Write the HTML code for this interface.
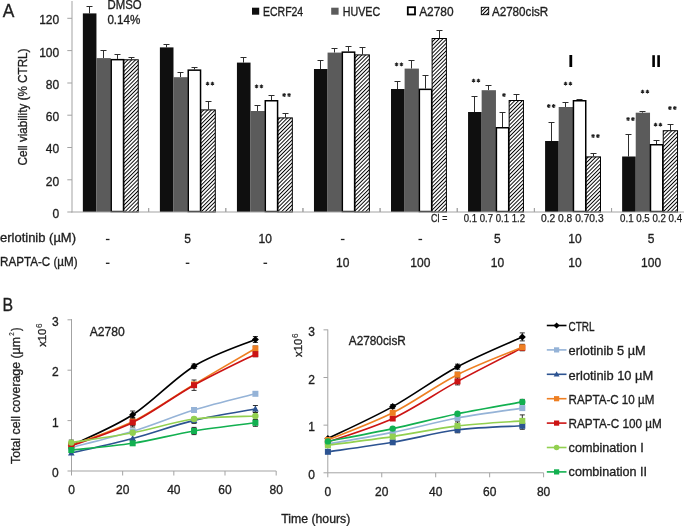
<!DOCTYPE html>
<html><head><meta charset="utf-8"><style>html,body{margin:0;padding:0;background:#fff;overflow:hidden}svg{display:block;will-change:transform}text{font-family:"Liberation Sans",sans-serif;stroke:#1e1e1e;stroke-width:0.32px}</style></head>
<body><svg width="685" height="526" viewBox="0 0 685 526" font-family='"Liberation Sans", sans-serif'>
<defs><pattern id="hatch" width="2.7" height="2.7" patternUnits="userSpaceOnUse" patternTransform="rotate(45)"><rect width="2.7" height="2.7" fill="#fff"/><rect width="0.95" height="2.7" fill="#000"/></pattern></defs>
<rect width="685" height="526" fill="#fff"/>
<line x1="72" y1="1" x2="72" y2="212.5" stroke="#a3a3a3" stroke-width="1"/>
<line x1="67.3" y1="212" x2="72" y2="212" stroke="#a3a3a3" stroke-width="1"/>
<text x="59.2" y="217.9" font-size="12" text-anchor="end" fill="#1e1e1e">0</text>
<line x1="67.3" y1="179.8" x2="72" y2="179.8" stroke="#a3a3a3" stroke-width="1"/>
<text x="59.2" y="185.70000000000002" font-size="12" text-anchor="end" fill="#1e1e1e">20</text>
<line x1="67.3" y1="147.5" x2="72" y2="147.5" stroke="#a3a3a3" stroke-width="1"/>
<text x="59.2" y="153.4" font-size="12" text-anchor="end" fill="#1e1e1e">40</text>
<line x1="67.3" y1="115.2" x2="72" y2="115.2" stroke="#a3a3a3" stroke-width="1"/>
<text x="59.2" y="121.10000000000001" font-size="12" text-anchor="end" fill="#1e1e1e">60</text>
<line x1="67.3" y1="83.0" x2="72" y2="83.0" stroke="#a3a3a3" stroke-width="1"/>
<text x="59.2" y="88.9" font-size="12" text-anchor="end" fill="#1e1e1e">80</text>
<line x1="67.3" y1="50.6" x2="72" y2="50.6" stroke="#a3a3a3" stroke-width="1"/>
<text x="59.2" y="56.5" font-size="12" text-anchor="end" fill="#1e1e1e">100</text>
<line x1="67.3" y1="18.3" x2="72" y2="18.3" stroke="#a3a3a3" stroke-width="1"/>
<text x="59.2" y="24.200000000000003" font-size="12" text-anchor="end" fill="#1e1e1e">120</text>
<line x1="148.65" y1="208" x2="148.65" y2="212.0" stroke="#a3a3a3" stroke-width="1"/>
<line x1="225.8" y1="208" x2="225.8" y2="212.0" stroke="#a3a3a3" stroke-width="1"/>
<line x1="302.95000000000005" y1="208" x2="302.95000000000005" y2="212.0" stroke="#a3a3a3" stroke-width="1"/>
<line x1="380.1" y1="208" x2="380.1" y2="212.0" stroke="#a3a3a3" stroke-width="1"/>
<line x1="457.25" y1="208" x2="457.25" y2="212.0" stroke="#a3a3a3" stroke-width="1"/>
<line x1="534.4000000000001" y1="208" x2="534.4000000000001" y2="212.0" stroke="#a3a3a3" stroke-width="1"/>
<line x1="611.5500000000001" y1="208" x2="611.5500000000001" y2="212.0" stroke="#a3a3a3" stroke-width="1"/>
<line x1="89.5" y1="13.4" x2="89.5" y2="6.5" stroke="#2e2e2e" stroke-width="1"/>
<line x1="86.5" y1="6.5" x2="92.5" y2="6.5" stroke="#2e2e2e" stroke-width="1"/>
<line x1="103.5" y1="58.1" x2="103.5" y2="50.5" stroke="#2e2e2e" stroke-width="1"/>
<line x1="100.5" y1="50.5" x2="106.5" y2="50.5" stroke="#2e2e2e" stroke-width="1"/>
<line x1="117.5" y1="58.9" x2="117.5" y2="54.5" stroke="#2e2e2e" stroke-width="1"/>
<line x1="114.5" y1="54.5" x2="120.5" y2="54.5" stroke="#2e2e2e" stroke-width="1"/>
<line x1="131.5" y1="59.3" x2="131.5" y2="57.5" stroke="#2e2e2e" stroke-width="1"/>
<line x1="128.5" y1="57.5" x2="134.5" y2="57.5" stroke="#2e2e2e" stroke-width="1"/>
<rect x="82.85" y="13.40" width="13.60" height="198.60" fill="#0f0f0f"/>
<rect x="96.45" y="58.10" width="14.30" height="153.90" fill="#5b5b5b"/>
<rect x="111.20" y="59.65" width="12.30" height="151.90" fill="#fff" stroke="#000" stroke-width="1.5"/>
<rect x="123.95" y="59.80" width="14.30" height="152.20" fill="url(#hatch)" stroke="#000" stroke-width="1"/>
<line x1="166.5" y1="47.4" x2="166.5" y2="44.5" stroke="#2e2e2e" stroke-width="1"/>
<line x1="163.5" y1="44.5" x2="169.5" y2="44.5" stroke="#2e2e2e" stroke-width="1"/>
<line x1="180.5" y1="77.2" x2="180.5" y2="72.5" stroke="#2e2e2e" stroke-width="1"/>
<line x1="177.5" y1="72.5" x2="183.5" y2="72.5" stroke="#2e2e2e" stroke-width="1"/>
<line x1="194.5" y1="69.4" x2="194.5" y2="67.5" stroke="#2e2e2e" stroke-width="1"/>
<line x1="191.5" y1="67.5" x2="197.5" y2="67.5" stroke="#2e2e2e" stroke-width="1"/>
<line x1="208.5" y1="109.4" x2="208.5" y2="101.5" stroke="#2e2e2e" stroke-width="1"/>
<line x1="205.5" y1="101.5" x2="211.5" y2="101.5" stroke="#2e2e2e" stroke-width="1"/>
<rect x="159.89" y="47.40" width="13.60" height="164.60" fill="#0f0f0f"/>
<rect x="173.49" y="77.20" width="14.30" height="134.80" fill="#5b5b5b"/>
<rect x="188.24" y="70.15" width="12.30" height="141.40" fill="#fff" stroke="#000" stroke-width="1.5"/>
<rect x="200.99" y="109.90" width="14.30" height="102.10" fill="url(#hatch)" stroke="#000" stroke-width="1"/>
<line x1="243.5" y1="62.6" x2="243.5" y2="57.5" stroke="#2e2e2e" stroke-width="1"/>
<line x1="240.5" y1="57.5" x2="246.5" y2="57.5" stroke="#2e2e2e" stroke-width="1"/>
<line x1="257.5" y1="111.0" x2="257.5" y2="105.5" stroke="#2e2e2e" stroke-width="1"/>
<line x1="254.5" y1="105.5" x2="260.5" y2="105.5" stroke="#2e2e2e" stroke-width="1"/>
<line x1="271.5" y1="100.0" x2="271.5" y2="95.5" stroke="#2e2e2e" stroke-width="1"/>
<line x1="268.5" y1="95.5" x2="274.5" y2="95.5" stroke="#2e2e2e" stroke-width="1"/>
<line x1="285.5" y1="117.4" x2="285.5" y2="113.5" stroke="#2e2e2e" stroke-width="1"/>
<line x1="282.5" y1="113.5" x2="288.5" y2="113.5" stroke="#2e2e2e" stroke-width="1"/>
<rect x="236.93" y="62.60" width="13.60" height="149.40" fill="#0f0f0f"/>
<rect x="250.53" y="111.00" width="14.30" height="101.00" fill="#5b5b5b"/>
<rect x="265.28" y="100.75" width="12.30" height="110.80" fill="#fff" stroke="#000" stroke-width="1.5"/>
<rect x="278.03" y="117.90" width="14.30" height="94.10" fill="url(#hatch)" stroke="#000" stroke-width="1"/>
<line x1="320.5" y1="69.0" x2="320.5" y2="60.5" stroke="#2e2e2e" stroke-width="1"/>
<line x1="317.5" y1="60.5" x2="323.5" y2="60.5" stroke="#2e2e2e" stroke-width="1"/>
<line x1="334.5" y1="52.6" x2="334.5" y2="48.5" stroke="#2e2e2e" stroke-width="1"/>
<line x1="331.5" y1="48.5" x2="337.5" y2="48.5" stroke="#2e2e2e" stroke-width="1"/>
<line x1="348.5" y1="51.4" x2="348.5" y2="46.5" stroke="#2e2e2e" stroke-width="1"/>
<line x1="345.5" y1="46.5" x2="351.5" y2="46.5" stroke="#2e2e2e" stroke-width="1"/>
<line x1="362.5" y1="54.4" x2="362.5" y2="47.5" stroke="#2e2e2e" stroke-width="1"/>
<line x1="359.5" y1="47.5" x2="365.5" y2="47.5" stroke="#2e2e2e" stroke-width="1"/>
<rect x="313.97" y="69.00" width="13.60" height="143.00" fill="#0f0f0f"/>
<rect x="327.57" y="52.60" width="14.30" height="159.40" fill="#5b5b5b"/>
<rect x="342.32" y="52.15" width="12.30" height="159.40" fill="#fff" stroke="#000" stroke-width="1.5"/>
<rect x="355.07" y="54.90" width="14.30" height="157.10" fill="url(#hatch)" stroke="#000" stroke-width="1"/>
<line x1="397.5" y1="89.0" x2="397.5" y2="81.5" stroke="#2e2e2e" stroke-width="1"/>
<line x1="394.5" y1="81.5" x2="400.5" y2="81.5" stroke="#2e2e2e" stroke-width="1"/>
<line x1="411.5" y1="68.6" x2="411.5" y2="60.5" stroke="#2e2e2e" stroke-width="1"/>
<line x1="408.5" y1="60.5" x2="414.5" y2="60.5" stroke="#2e2e2e" stroke-width="1"/>
<line x1="425.5" y1="88.6" x2="425.5" y2="75.5" stroke="#2e2e2e" stroke-width="1"/>
<line x1="422.5" y1="75.5" x2="428.5" y2="75.5" stroke="#2e2e2e" stroke-width="1"/>
<line x1="439.5" y1="38.0" x2="439.5" y2="30.5" stroke="#2e2e2e" stroke-width="1"/>
<line x1="436.5" y1="30.5" x2="442.5" y2="30.5" stroke="#2e2e2e" stroke-width="1"/>
<rect x="391.01" y="89.00" width="13.60" height="123.00" fill="#0f0f0f"/>
<rect x="404.61" y="68.60" width="14.30" height="143.40" fill="#5b5b5b"/>
<rect x="419.36" y="89.35" width="12.30" height="122.20" fill="#fff" stroke="#000" stroke-width="1.5"/>
<rect x="432.11" y="38.50" width="14.30" height="173.50" fill="url(#hatch)" stroke="#000" stroke-width="1"/>
<line x1="474.5" y1="112.0" x2="474.5" y2="96.5" stroke="#2e2e2e" stroke-width="1"/>
<line x1="471.5" y1="96.5" x2="477.5" y2="96.5" stroke="#2e2e2e" stroke-width="1"/>
<line x1="488.5" y1="90.2" x2="488.5" y2="85.5" stroke="#2e2e2e" stroke-width="1"/>
<line x1="485.5" y1="85.5" x2="491.5" y2="85.5" stroke="#2e2e2e" stroke-width="1"/>
<line x1="502.5" y1="127.0" x2="502.5" y2="112.5" stroke="#2e2e2e" stroke-width="1"/>
<line x1="499.5" y1="112.5" x2="505.5" y2="112.5" stroke="#2e2e2e" stroke-width="1"/>
<line x1="516.5" y1="100.0" x2="516.5" y2="94.5" stroke="#2e2e2e" stroke-width="1"/>
<line x1="513.5" y1="94.5" x2="519.5" y2="94.5" stroke="#2e2e2e" stroke-width="1"/>
<rect x="468.05" y="112.00" width="13.60" height="100.00" fill="#0f0f0f"/>
<rect x="481.65" y="90.20" width="14.30" height="121.80" fill="#5b5b5b"/>
<rect x="496.40" y="127.75" width="12.30" height="83.80" fill="#fff" stroke="#000" stroke-width="1.5"/>
<rect x="509.15" y="100.50" width="14.30" height="111.50" fill="url(#hatch)" stroke="#000" stroke-width="1"/>
<line x1="551.5" y1="141.0" x2="551.5" y2="122.5" stroke="#2e2e2e" stroke-width="1"/>
<line x1="548.5" y1="122.5" x2="554.5" y2="122.5" stroke="#2e2e2e" stroke-width="1"/>
<line x1="565.5" y1="107.0" x2="565.5" y2="102.5" stroke="#2e2e2e" stroke-width="1"/>
<line x1="562.5" y1="102.5" x2="568.5" y2="102.5" stroke="#2e2e2e" stroke-width="1"/>
<line x1="579.5" y1="100.0" x2="579.5" y2="99.5" stroke="#2e2e2e" stroke-width="1"/>
<line x1="576.5" y1="99.5" x2="582.5" y2="99.5" stroke="#2e2e2e" stroke-width="1"/>
<line x1="593.5" y1="156.4" x2="593.5" y2="153.5" stroke="#2e2e2e" stroke-width="1"/>
<line x1="590.5" y1="153.5" x2="596.5" y2="153.5" stroke="#2e2e2e" stroke-width="1"/>
<rect x="545.09" y="141.00" width="13.60" height="71.00" fill="#0f0f0f"/>
<rect x="558.69" y="107.00" width="14.30" height="105.00" fill="#5b5b5b"/>
<rect x="573.44" y="100.75" width="12.30" height="110.80" fill="#fff" stroke="#000" stroke-width="1.5"/>
<rect x="586.19" y="156.90" width="14.30" height="55.10" fill="url(#hatch)" stroke="#000" stroke-width="1"/>
<line x1="628.5" y1="156.5" x2="628.5" y2="134.5" stroke="#2e2e2e" stroke-width="1"/>
<line x1="625.5" y1="134.5" x2="631.5" y2="134.5" stroke="#2e2e2e" stroke-width="1"/>
<line x1="642.5" y1="112.7" x2="642.5" y2="111.5" stroke="#2e2e2e" stroke-width="1"/>
<line x1="639.5" y1="111.5" x2="645.5" y2="111.5" stroke="#2e2e2e" stroke-width="1"/>
<line x1="656.5" y1="144.0" x2="656.5" y2="140.5" stroke="#2e2e2e" stroke-width="1"/>
<line x1="653.5" y1="140.5" x2="659.5" y2="140.5" stroke="#2e2e2e" stroke-width="1"/>
<line x1="670.5" y1="130.2" x2="670.5" y2="124.5" stroke="#2e2e2e" stroke-width="1"/>
<line x1="667.5" y1="124.5" x2="673.5" y2="124.5" stroke="#2e2e2e" stroke-width="1"/>
<rect x="622.13" y="156.50" width="13.60" height="55.50" fill="#0f0f0f"/>
<rect x="635.73" y="112.70" width="14.30" height="99.30" fill="#5b5b5b"/>
<rect x="650.48" y="144.75" width="12.30" height="66.80" fill="#fff" stroke="#000" stroke-width="1.5"/>
<rect x="663.23" y="130.70" width="14.30" height="81.30" fill="url(#hatch)" stroke="#000" stroke-width="1"/>
<line x1="71.5" y1="212.0" x2="684" y2="212.0" stroke="#a3a3a3" stroke-width="1.1"/>
<line x1="148.65" y1="208" x2="148.65" y2="212.0" stroke="#a3a3a3" stroke-width="1"/>
<line x1="225.8" y1="208" x2="225.8" y2="212.0" stroke="#a3a3a3" stroke-width="1"/>
<line x1="302.95000000000005" y1="208" x2="302.95000000000005" y2="212.0" stroke="#a3a3a3" stroke-width="1"/>
<line x1="380.1" y1="208" x2="380.1" y2="212.0" stroke="#a3a3a3" stroke-width="1"/>
<line x1="457.25" y1="208" x2="457.25" y2="212.0" stroke="#a3a3a3" stroke-width="1"/>
<line x1="534.4000000000001" y1="208" x2="534.4000000000001" y2="212.0" stroke="#a3a3a3" stroke-width="1"/>
<line x1="611.5500000000001" y1="208" x2="611.5500000000001" y2="212.0" stroke="#a3a3a3" stroke-width="1"/>
<path d="M207.55 81.70L207.55 85.50M205.90 82.65L209.20 84.55M209.20 82.65L205.90 84.55" stroke="#202020" stroke-width="1.1" fill="none"/>
<path d="M212.45 81.70L212.45 85.50M210.80 82.65L214.10 84.55M214.10 82.65L210.80 84.55" stroke="#202020" stroke-width="1.1" fill="none"/>
<path d="M256.55 84.50L256.55 88.30M254.90 85.45L258.20 87.35M258.20 85.45L254.90 87.35" stroke="#202020" stroke-width="1.1" fill="none"/>
<path d="M261.45 84.50L261.45 88.30M259.80 85.45L263.10 87.35M263.10 85.45L259.80 87.35" stroke="#202020" stroke-width="1.1" fill="none"/>
<path d="M284.15 93.10L284.15 96.90M282.50 94.05L285.80 95.95M285.80 94.05L282.50 95.95" stroke="#202020" stroke-width="1.1" fill="none"/>
<path d="M289.05 93.10L289.05 96.90M287.40 94.05L290.70 95.95M290.70 94.05L287.40 95.95" stroke="#202020" stroke-width="1.1" fill="none"/>
<path d="M396.55 62.50L396.55 66.30M394.90 63.45L398.20 65.35M398.20 63.45L394.90 65.35" stroke="#202020" stroke-width="1.1" fill="none"/>
<path d="M401.45 62.50L401.45 66.30M399.80 63.45L403.10 65.35M403.10 63.45L399.80 65.35" stroke="#202020" stroke-width="1.1" fill="none"/>
<path d="M473.55 78.70L473.55 82.50M471.90 79.65L475.20 81.55M475.20 79.65L471.90 81.55" stroke="#202020" stroke-width="1.1" fill="none"/>
<path d="M478.45 78.70L478.45 82.50M476.80 79.65L480.10 81.55M480.10 79.65L476.80 81.55" stroke="#202020" stroke-width="1.1" fill="none"/>
<path d="M504.00 93.10L504.00 96.90M502.35 94.05L505.65 95.95M505.65 94.05L502.35 95.95" stroke="#202020" stroke-width="1.1" fill="none"/>
<path d="M548.75 104.10L548.75 107.90M547.10 105.05L550.40 106.95M550.40 105.05L547.10 106.95" stroke="#202020" stroke-width="1.1" fill="none"/>
<path d="M553.65 104.10L553.65 107.90M552.00 105.05L555.30 106.95M555.30 105.05L552.00 106.95" stroke="#202020" stroke-width="1.1" fill="none"/>
<path d="M565.55 81.70L565.55 85.50M563.90 82.65L567.20 84.55M567.20 82.65L563.90 84.55" stroke="#202020" stroke-width="1.1" fill="none"/>
<path d="M570.45 81.70L570.45 85.50M568.80 82.65L572.10 84.55M572.10 82.65L568.80 84.55" stroke="#202020" stroke-width="1.1" fill="none"/>
<path d="M593.05 134.10L593.05 137.90M591.40 135.05L594.70 136.95M594.70 135.05L591.40 136.95" stroke="#202020" stroke-width="1.1" fill="none"/>
<path d="M597.95 134.10L597.95 137.90M596.30 135.05L599.60 136.95M599.60 135.05L596.30 136.95" stroke="#202020" stroke-width="1.1" fill="none"/>
<path d="M628.05 117.10L628.05 120.90M626.40 118.05L629.70 119.95M629.70 118.05L626.40 119.95" stroke="#202020" stroke-width="1.1" fill="none"/>
<path d="M632.95 117.10L632.95 120.90M631.30 118.05L634.60 119.95M634.60 118.05L631.30 119.95" stroke="#202020" stroke-width="1.1" fill="none"/>
<path d="M642.55 89.70L642.55 93.50M640.90 90.65L644.20 92.55M644.20 90.65L640.90 92.55" stroke="#202020" stroke-width="1.1" fill="none"/>
<path d="M647.45 89.70L647.45 93.50M645.80 90.65L649.10 92.55M649.10 90.65L645.80 92.55" stroke="#202020" stroke-width="1.1" fill="none"/>
<path d="M655.55 122.80L655.55 126.60M653.90 123.75L657.20 125.65M657.20 123.75L653.90 125.65" stroke="#202020" stroke-width="1.1" fill="none"/>
<path d="M660.45 122.80L660.45 126.60M658.80 123.75L662.10 125.65M662.10 123.75L658.80 125.65" stroke="#202020" stroke-width="1.1" fill="none"/>
<path d="M669.95 106.10L669.95 109.90M668.30 107.05L671.60 108.95M671.60 107.05L668.30 108.95" stroke="#202020" stroke-width="1.1" fill="none"/>
<path d="M674.85 106.10L674.85 109.90M673.20 107.05L676.50 108.95M676.50 107.05L673.20 108.95" stroke="#202020" stroke-width="1.1" fill="none"/>
<rect x="569.40" y="55.00" width="2.80" height="12.00" fill="#000"/>
<rect x="652.30" y="55.20" width="2.60" height="11.80" fill="#000"/>
<rect x="657.30" y="55.20" width="2.60" height="11.80" fill="#000"/>
<text x="2.7" y="16.5" font-size="18.4" textLength="11.6" lengthAdjust="spacingAndGlyphs" fill="#1e1e1e">A</text>
<text x="107.6" y="8.8" font-size="12" textLength="34" lengthAdjust="spacingAndGlyphs" fill="#1e1e1e">DMSO</text>
<text x="107.4" y="23.8" font-size="12" textLength="33" lengthAdjust="spacingAndGlyphs" fill="#1e1e1e">0.14%</text>
<rect x="252.00" y="7.70" width="7.20" height="7.00" fill="#0f0f0f"/>
<text x="263" y="15.8" font-size="12" textLength="40.2" lengthAdjust="spacingAndGlyphs" fill="#1e1e1e">ECRF24</text>
<rect x="331.20" y="7.70" width="7.40" height="7.00" fill="#5b5b5b"/>
<text x="342.7" y="15.8" font-size="12" textLength="37.5" lengthAdjust="spacingAndGlyphs" fill="#1e1e1e">HUVEC</text>
<rect x="407.80" y="7.20" width="7.20" height="7.30" fill="#fff" stroke="#000" stroke-width="1.8"/>
<text x="419.2" y="15.8" font-size="12" textLength="34.4" lengthAdjust="spacingAndGlyphs" fill="#1e1e1e">A2780</text>
<rect x="481.30" y="7.30" width="7.40" height="7.40" fill="url(#hatch)" stroke="#000" stroke-width="0.9"/>
<text x="491.9" y="15.8" font-size="12" textLength="56.3" lengthAdjust="spacingAndGlyphs" fill="#1e1e1e">A2780cisR</text>
<text x="0" y="0" transform="translate(27.1,107) rotate(-90)" font-size="12.2" text-anchor="middle" textLength="117" lengthAdjust="spacingAndGlyphs" fill="#1e1e1e">Cell viability (% CTRL)</text>
<text x="431" y="221.8" font-size="10.8" textLength="16.4" lengthAdjust="spacingAndGlyphs" fill="#1e1e1e" style="stroke-width:0.3px">CI =</text>
<text x="463.8" y="221.8" font-size="10.0" textLength="61.2" lengthAdjust="spacingAndGlyphs" fill="#1e1e1e" style="stroke-width:0.25px">0.1 0.7 0.1 1.2</text>
<text x="541.0" y="221.8" font-size="10.0" textLength="62.6" lengthAdjust="spacingAndGlyphs" fill="#1e1e1e" style="stroke-width:0.25px">0.2 0.8 0.70.3</text>
<text x="620.1" y="221.8" font-size="10.0" textLength="62" lengthAdjust="spacingAndGlyphs" fill="#1e1e1e" style="stroke-width:0.25px">0.1 0.5 0.2 0.4</text>
<text x="0" y="242.3" font-size="12.2" textLength="76" lengthAdjust="spacingAndGlyphs" fill="#1e1e1e">erlotinib (µM)</text>
<text x="0" y="265.8" font-size="12.2" textLength="77.6" lengthAdjust="spacingAndGlyphs" fill="#1e1e1e">RAPTA-C (µM)</text>
<rect x="105.90" y="238.85" width="3.60" height="1.30" fill="#1e1e1e"/>
<rect x="105.90" y="262.65" width="3.60" height="1.30" fill="#1e1e1e"/>
<text x="187.55" y="243" font-size="12" text-anchor="middle" fill="#1e1e1e">5</text>
<rect x="185.75" y="262.65" width="3.60" height="1.30" fill="#1e1e1e"/>
<text x="265.3" y="243" font-size="12" text-anchor="middle" fill="#1e1e1e">10</text>
<rect x="263.50" y="262.65" width="3.60" height="1.30" fill="#1e1e1e"/>
<rect x="340.90" y="238.85" width="3.60" height="1.30" fill="#1e1e1e"/>
<text x="342.7" y="266.5" font-size="12" text-anchor="middle" fill="#1e1e1e">10</text>
<rect x="418.50" y="238.85" width="3.60" height="1.30" fill="#1e1e1e"/>
<text x="420.3" y="266.5" font-size="12" text-anchor="middle" fill="#1e1e1e">100</text>
<text x="497.4" y="243" font-size="12" text-anchor="middle" fill="#1e1e1e">5</text>
<text x="497.4" y="266.5" font-size="12" text-anchor="middle" fill="#1e1e1e">10</text>
<text x="575.0" y="243" font-size="12" text-anchor="middle" fill="#1e1e1e">10</text>
<text x="575.0" y="266.5" font-size="12" text-anchor="middle" fill="#1e1e1e">10</text>
<text x="651.1" y="243" font-size="12" text-anchor="middle" fill="#1e1e1e">5</text>
<text x="651.1" y="266.5" font-size="12" text-anchor="middle" fill="#1e1e1e">100</text>
<text x="2.6" y="310.6" font-size="18.4" textLength="10.6" lengthAdjust="spacingAndGlyphs" fill="#1e1e1e">B</text>
<line x1="71.5" y1="319" x2="71.5" y2="471.0" stroke="#a3a3a3" stroke-width="1"/>
<line x1="71.5" y1="471.0" x2="276.2" y2="471.0" stroke="#a3a3a3" stroke-width="1"/>
<line x1="67.5" y1="471.0" x2="71.5" y2="471.0" stroke="#a3a3a3" stroke-width="1"/>
<text x="58.6" y="477.0" font-size="12" text-anchor="end" fill="#1e1e1e">0</text>
<line x1="67.5" y1="420.6" x2="71.5" y2="420.6" stroke="#a3a3a3" stroke-width="1"/>
<text x="58.6" y="426.6" font-size="12" text-anchor="end" fill="#1e1e1e">1</text>
<line x1="67.5" y1="370.2" x2="71.5" y2="370.2" stroke="#a3a3a3" stroke-width="1"/>
<text x="58.6" y="376.2" font-size="12" text-anchor="end" fill="#1e1e1e">2</text>
<line x1="67.5" y1="319.8" x2="71.5" y2="319.8" stroke="#a3a3a3" stroke-width="1"/>
<text x="58.6" y="325.8" font-size="12" text-anchor="end" fill="#1e1e1e">3</text>
<line x1="71.5" y1="471.0" x2="71.5" y2="475.5" stroke="#a3a3a3" stroke-width="1"/>
<text x="71.5" y="493.6" font-size="12" text-anchor="middle" fill="#1e1e1e">0</text>
<line x1="122.67" y1="471.0" x2="122.67" y2="475.5" stroke="#a3a3a3" stroke-width="1"/>
<text x="122.67" y="493.6" font-size="12" text-anchor="middle" fill="#1e1e1e">20</text>
<line x1="173.84" y1="471.0" x2="173.84" y2="475.5" stroke="#a3a3a3" stroke-width="1"/>
<text x="173.84" y="493.6" font-size="12" text-anchor="middle" fill="#1e1e1e">40</text>
<line x1="225.01" y1="471.0" x2="225.01" y2="475.5" stroke="#a3a3a3" stroke-width="1"/>
<text x="225.01" y="493.6" font-size="12" text-anchor="middle" fill="#1e1e1e">60</text>
<line x1="276.18" y1="471.0" x2="276.18" y2="475.5" stroke="#a3a3a3" stroke-width="1"/>
<text x="276.18" y="493.6" font-size="12" text-anchor="middle" fill="#1e1e1e">80</text>
<text x="0" y="0" transform="translate(46.0,346.8) rotate(-90)" font-size="10.2" textLength="18.2" lengthAdjust="spacingAndGlyphs" fill="#1e1e1e">x10</text>
<text x="0" y="0" transform="translate(41.7,328.1) rotate(-90)" font-size="8.2" textLength="4.6" lengthAdjust="spacingAndGlyphs" fill="#1e1e1e" style="stroke-width:0.12px">6</text>
<text x="89.7" y="336.3" font-size="12" textLength="35" lengthAdjust="spacingAndGlyphs" fill="#1e1e1e">A2780</text>
<text x="0" y="0" transform="translate(19.5,463.9) rotate(-90)" font-size="12.2" textLength="126.8" lengthAdjust="spacingAndGlyphs" fill="#1e1e1e">Total cell coverage (µm</text>
<text x="0" y="0" transform="translate(13.9,335.8) rotate(-90)" font-size="7.4" textLength="3.6" lengthAdjust="spacingAndGlyphs" fill="#1e1e1e" style="stroke-width:0.12px">2</text>
<text x="0" y="0" transform="translate(19.5,331.0) rotate(-90)" font-size="12.2" textLength="3.4" lengthAdjust="spacingAndGlyphs" fill="#1e1e1e">)</text>
<line x1="327.8" y1="329.5" x2="327.8" y2="472.8" stroke="#a3a3a3" stroke-width="1"/>
<line x1="327.8" y1="472.8" x2="543.6" y2="472.8" stroke="#a3a3a3" stroke-width="1"/>
<line x1="323.5" y1="472.8" x2="327.8" y2="472.8" stroke="#a3a3a3" stroke-width="1"/>
<text x="315.0" y="479.1" font-size="12" text-anchor="end" fill="#1e1e1e">0</text>
<line x1="323.5" y1="425.15000000000003" x2="327.8" y2="425.15000000000003" stroke="#a3a3a3" stroke-width="1"/>
<text x="315.0" y="431.45000000000005" font-size="12" text-anchor="end" fill="#1e1e1e">1</text>
<line x1="323.5" y1="377.5" x2="327.8" y2="377.5" stroke="#a3a3a3" stroke-width="1"/>
<text x="315.0" y="383.8" font-size="12" text-anchor="end" fill="#1e1e1e">2</text>
<line x1="323.5" y1="329.85" x2="327.8" y2="329.85" stroke="#a3a3a3" stroke-width="1"/>
<text x="315.0" y="336.15000000000003" font-size="12" text-anchor="end" fill="#1e1e1e">3</text>
<line x1="327.8" y1="472.8" x2="327.8" y2="477.3" stroke="#a3a3a3" stroke-width="1"/>
<text x="327.8" y="495.9" font-size="12" text-anchor="middle" fill="#1e1e1e">0</text>
<line x1="381.75" y1="472.8" x2="381.75" y2="477.3" stroke="#a3a3a3" stroke-width="1"/>
<text x="381.75" y="495.9" font-size="12" text-anchor="middle" fill="#1e1e1e">20</text>
<line x1="435.70000000000005" y1="472.8" x2="435.70000000000005" y2="477.3" stroke="#a3a3a3" stroke-width="1"/>
<text x="435.70000000000005" y="495.9" font-size="12" text-anchor="middle" fill="#1e1e1e">40</text>
<line x1="489.65000000000003" y1="472.8" x2="489.65000000000003" y2="477.3" stroke="#a3a3a3" stroke-width="1"/>
<text x="489.65000000000003" y="495.9" font-size="12" text-anchor="middle" fill="#1e1e1e">60</text>
<line x1="543.6" y1="472.8" x2="543.6" y2="477.3" stroke="#a3a3a3" stroke-width="1"/>
<text x="543.6" y="495.9" font-size="12" text-anchor="middle" fill="#1e1e1e">80</text>
<text x="0" y="0" transform="translate(302.2,357.0) rotate(-90)" font-size="10.2" textLength="18.2" lengthAdjust="spacingAndGlyphs" fill="#1e1e1e">x10</text>
<text x="0" y="0" transform="translate(297.9,338.0) rotate(-90)" font-size="8.2" textLength="4.6" lengthAdjust="spacingAndGlyphs" fill="#1e1e1e" style="stroke-width:0.12px">6</text>
<text x="348.8" y="345.2" font-size="12" textLength="57" lengthAdjust="spacingAndGlyphs" fill="#1e1e1e">A2780cisR</text>
<text x="281.2" y="522.6" font-size="12.2" textLength="69.1" lengthAdjust="spacingAndGlyphs" fill="#1e1e1e">Time (hours)</text>
<line x1="71.3" y1="442.0" x2="71.3" y2="449.0" stroke="#1a1a1a" stroke-width="0.9"/>
<line x1="68.8" y1="442.0" x2="73.8" y2="442.0" stroke="#1a1a1a" stroke-width="0.9"/>
<line x1="68.8" y1="449.0" x2="73.8" y2="449.0" stroke="#1a1a1a" stroke-width="0.9"/>
<line x1="132.668" y1="411.0" x2="132.668" y2="418.6" stroke="#1a1a1a" stroke-width="0.9"/>
<line x1="130.168" y1="411.0" x2="135.168" y2="411.0" stroke="#1a1a1a" stroke-width="0.9"/>
<line x1="130.168" y1="418.6" x2="135.168" y2="418.6" stroke="#1a1a1a" stroke-width="0.9"/>
<line x1="194.036" y1="364.0" x2="194.036" y2="368.4" stroke="#1a1a1a" stroke-width="0.9"/>
<line x1="191.536" y1="364.0" x2="196.536" y2="364.0" stroke="#1a1a1a" stroke-width="0.9"/>
<line x1="191.536" y1="368.4" x2="196.536" y2="368.4" stroke="#1a1a1a" stroke-width="0.9"/>
<line x1="255.404" y1="336.5" x2="255.404" y2="342.5" stroke="#1a1a1a" stroke-width="0.9"/>
<line x1="252.904" y1="336.5" x2="257.904" y2="336.5" stroke="#1a1a1a" stroke-width="0.9"/>
<line x1="252.904" y1="342.5" x2="257.904" y2="342.5" stroke="#1a1a1a" stroke-width="0.9"/>
<line x1="194.036" y1="407.5" x2="194.036" y2="412.5" stroke="#1a1a1a" stroke-width="0.9"/>
<line x1="191.536" y1="407.5" x2="196.536" y2="407.5" stroke="#1a1a1a" stroke-width="0.9"/>
<line x1="191.536" y1="412.5" x2="196.536" y2="412.5" stroke="#1a1a1a" stroke-width="0.9"/>
<line x1="255.404" y1="405.5" x2="255.404" y2="412.5" stroke="#1a1a1a" stroke-width="0.9"/>
<line x1="252.904" y1="405.5" x2="257.904" y2="405.5" stroke="#1a1a1a" stroke-width="0.9"/>
<line x1="252.904" y1="412.5" x2="257.904" y2="412.5" stroke="#1a1a1a" stroke-width="0.9"/>
<line x1="194.036" y1="417.4" x2="194.036" y2="423.4" stroke="#1a1a1a" stroke-width="0.9"/>
<line x1="191.536" y1="417.4" x2="196.536" y2="417.4" stroke="#1a1a1a" stroke-width="0.9"/>
<line x1="191.536" y1="423.4" x2="196.536" y2="423.4" stroke="#1a1a1a" stroke-width="0.9"/>
<line x1="71.3" y1="442.8" x2="71.3" y2="447.8" stroke="#1a1a1a" stroke-width="0.9"/>
<line x1="68.8" y1="442.8" x2="73.8" y2="442.8" stroke="#1a1a1a" stroke-width="0.9"/>
<line x1="68.8" y1="447.8" x2="73.8" y2="447.8" stroke="#1a1a1a" stroke-width="0.9"/>
<line x1="132.668" y1="417.6" x2="132.668" y2="425.6" stroke="#1a1a1a" stroke-width="0.9"/>
<line x1="130.168" y1="417.6" x2="135.168" y2="417.6" stroke="#1a1a1a" stroke-width="0.9"/>
<line x1="130.168" y1="425.6" x2="135.168" y2="425.6" stroke="#1a1a1a" stroke-width="0.9"/>
<line x1="255.404" y1="346.0" x2="255.404" y2="351.0" stroke="#1a1a1a" stroke-width="0.9"/>
<line x1="252.904" y1="346.0" x2="257.904" y2="346.0" stroke="#1a1a1a" stroke-width="0.9"/>
<line x1="252.904" y1="351.0" x2="257.904" y2="351.0" stroke="#1a1a1a" stroke-width="0.9"/>
<line x1="132.668" y1="417.79999999999995" x2="132.668" y2="427.0" stroke="#1a1a1a" stroke-width="0.9"/>
<line x1="130.168" y1="417.79999999999995" x2="135.168" y2="417.79999999999995" stroke="#1a1a1a" stroke-width="0.9"/>
<line x1="130.168" y1="427.0" x2="135.168" y2="427.0" stroke="#1a1a1a" stroke-width="0.9"/>
<line x1="194.036" y1="380.0" x2="194.036" y2="390.4" stroke="#1a1a1a" stroke-width="0.9"/>
<line x1="191.536" y1="380.0" x2="196.536" y2="380.0" stroke="#1a1a1a" stroke-width="0.9"/>
<line x1="191.536" y1="390.4" x2="196.536" y2="390.4" stroke="#1a1a1a" stroke-width="0.9"/>
<line x1="255.404" y1="351.7" x2="255.404" y2="356.7" stroke="#1a1a1a" stroke-width="0.9"/>
<line x1="252.904" y1="351.7" x2="257.904" y2="351.7" stroke="#1a1a1a" stroke-width="0.9"/>
<line x1="252.904" y1="356.7" x2="257.904" y2="356.7" stroke="#1a1a1a" stroke-width="0.9"/>
<line x1="255.404" y1="412.2" x2="255.404" y2="419.8" stroke="#1a1a1a" stroke-width="0.9"/>
<line x1="252.904" y1="412.2" x2="257.904" y2="412.2" stroke="#1a1a1a" stroke-width="0.9"/>
<line x1="252.904" y1="419.8" x2="257.904" y2="419.8" stroke="#1a1a1a" stroke-width="0.9"/>
<line x1="71.3" y1="440.1" x2="71.3" y2="445.1" stroke="#1a1a1a" stroke-width="0.9"/>
<line x1="68.8" y1="440.1" x2="73.8" y2="440.1" stroke="#1a1a1a" stroke-width="0.9"/>
<line x1="68.8" y1="445.1" x2="73.8" y2="445.1" stroke="#1a1a1a" stroke-width="0.9"/>
<line x1="194.036" y1="427.4" x2="194.036" y2="434.6" stroke="#1a1a1a" stroke-width="0.9"/>
<line x1="191.536" y1="427.4" x2="196.536" y2="427.4" stroke="#1a1a1a" stroke-width="0.9"/>
<line x1="191.536" y1="434.6" x2="196.536" y2="434.6" stroke="#1a1a1a" stroke-width="0.9"/>
<line x1="255.404" y1="419.3" x2="255.404" y2="426.3" stroke="#1a1a1a" stroke-width="0.9"/>
<line x1="252.904" y1="419.3" x2="257.904" y2="419.3" stroke="#1a1a1a" stroke-width="0.9"/>
<line x1="252.904" y1="426.3" x2="257.904" y2="426.3" stroke="#1a1a1a" stroke-width="0.9"/>
<path d="M71.30 445.50C81.53 440.38 112.21 428.02 132.67 414.80C153.12 401.58 173.58 378.75 194.04 366.20C214.49 353.65 245.18 343.95 255.40 339.50" stroke="#000000" stroke-width="1.65" fill="none"/>
<path d="M71.30 442.00L74.80 445.50L71.30 449.00L67.80 445.50Z" fill="#000000"/>
<path d="M132.67 411.30L136.17 414.80L132.67 418.30L129.17 414.80Z" fill="#000000"/>
<path d="M194.04 362.70L197.54 366.20L194.04 369.70L190.54 366.20Z" fill="#000000"/>
<path d="M255.40 336.00L258.90 339.50L255.40 343.00L251.90 339.50Z" fill="#000000"/>
<path d="M71.30 447.50C81.53 444.80 112.21 437.55 132.67 431.30C153.12 425.05 173.58 416.25 194.04 410.00C214.49 403.75 245.18 396.50 255.40 393.80" stroke="#95b3d7" stroke-width="1.65" fill="none"/>
<rect x="68.30" y="444.50" width="6.00" height="6.00" fill="#95b3d7"/>
<rect x="129.67" y="428.30" width="6.00" height="6.00" fill="#95b3d7"/>
<rect x="191.04" y="407.00" width="6.00" height="6.00" fill="#95b3d7"/>
<rect x="252.40" y="390.80" width="6.00" height="6.00" fill="#95b3d7"/>
<path d="M71.30 453.00C81.53 450.58 112.21 443.93 132.67 438.50C153.12 433.07 173.58 425.32 194.04 420.40C214.49 415.48 245.18 410.90 255.40 409.00" stroke="#2c5391" stroke-width="1.65" fill="none"/>
<path d="M71.30 449.50L74.62 455.62L67.97 455.62Z" fill="#2c5391"/>
<path d="M132.67 435.00L135.99 441.12L129.34 441.12Z" fill="#2c5391"/>
<path d="M194.04 416.90L197.36 423.02L190.71 423.02Z" fill="#2c5391"/>
<path d="M255.40 405.50L258.73 411.62L252.08 411.62Z" fill="#2c5391"/>
<path d="M71.30 445.30C81.53 441.35 112.21 431.75 132.67 421.60C153.12 411.45 173.58 396.58 194.04 384.40C214.49 372.22 245.18 354.48 255.40 348.50" stroke="#ee7f22" stroke-width="1.65" fill="none"/>
<rect x="68.30" y="442.30" width="6.00" height="6.00" fill="#ee7f22"/>
<rect x="129.67" y="418.60" width="6.00" height="6.00" fill="#ee7f22"/>
<rect x="191.04" y="381.40" width="6.00" height="6.00" fill="#ee7f22"/>
<rect x="252.40" y="345.50" width="6.00" height="6.00" fill="#ee7f22"/>
<path d="M71.30 445.80C81.53 441.90 112.21 432.50 132.67 422.40C153.12 412.30 173.58 396.57 194.04 385.20C214.49 373.83 245.18 359.37 255.40 354.20" stroke="#cc1414" stroke-width="1.65" fill="none"/>
<rect x="68.30" y="442.80" width="6.00" height="6.00" fill="#cc1414"/>
<rect x="129.67" y="419.40" width="6.00" height="6.00" fill="#cc1414"/>
<rect x="191.04" y="382.20" width="6.00" height="6.00" fill="#cc1414"/>
<rect x="252.40" y="351.20" width="6.00" height="6.00" fill="#cc1414"/>
<path d="M71.30 442.60C81.53 440.97 112.21 436.73 132.67 432.80C153.12 428.87 173.58 421.80 194.04 419.00C214.49 416.20 245.18 416.50 255.40 416.00" stroke="#92d050" stroke-width="1.65" fill="none"/>
<circle cx="71.30" cy="442.60" r="3.20" fill="#92d050"/>
<circle cx="132.67" cy="432.80" r="3.20" fill="#92d050"/>
<circle cx="194.04" cy="419.00" r="3.20" fill="#92d050"/>
<circle cx="255.40" cy="416.00" r="3.20" fill="#92d050"/>
<path d="M71.30 450.00C81.53 448.88 112.21 446.47 132.67 443.30C153.12 440.13 173.58 434.42 194.04 431.00C214.49 427.58 245.18 424.17 255.40 422.80" stroke="#12b050" stroke-width="1.65" fill="none"/>
<rect x="68.30" y="447.00" width="6.00" height="6.00" fill="#12b050"/>
<rect x="129.67" y="440.30" width="6.00" height="6.00" fill="#12b050"/>
<rect x="191.04" y="428.00" width="6.00" height="6.00" fill="#12b050"/>
<rect x="252.40" y="419.80" width="6.00" height="6.00" fill="#12b050"/>
<line x1="522.3" y1="332.9" x2="522.3" y2="340.9" stroke="#1a1a1a" stroke-width="0.9"/>
<line x1="519.8" y1="332.9" x2="524.8" y2="332.9" stroke="#1a1a1a" stroke-width="0.9"/>
<line x1="519.8" y1="340.9" x2="524.8" y2="340.9" stroke="#1a1a1a" stroke-width="0.9"/>
<line x1="457.5" y1="364.2" x2="457.5" y2="369.2" stroke="#1a1a1a" stroke-width="0.9"/>
<line x1="455.0" y1="364.2" x2="460.0" y2="364.2" stroke="#1a1a1a" stroke-width="0.9"/>
<line x1="455.0" y1="369.2" x2="460.0" y2="369.2" stroke="#1a1a1a" stroke-width="0.9"/>
<line x1="392.7" y1="404.6" x2="392.7" y2="408.6" stroke="#1a1a1a" stroke-width="0.9"/>
<line x1="390.2" y1="404.6" x2="395.2" y2="404.6" stroke="#1a1a1a" stroke-width="0.9"/>
<line x1="390.2" y1="408.6" x2="395.2" y2="408.6" stroke="#1a1a1a" stroke-width="0.9"/>
<line x1="457.5" y1="426.8" x2="457.5" y2="432.8" stroke="#1a1a1a" stroke-width="0.9"/>
<line x1="455.0" y1="426.8" x2="460.0" y2="426.8" stroke="#1a1a1a" stroke-width="0.9"/>
<line x1="455.0" y1="432.8" x2="460.0" y2="432.8" stroke="#1a1a1a" stroke-width="0.9"/>
<line x1="522.3" y1="422.3" x2="522.3" y2="429.3" stroke="#1a1a1a" stroke-width="0.9"/>
<line x1="519.8" y1="422.3" x2="524.8" y2="422.3" stroke="#1a1a1a" stroke-width="0.9"/>
<line x1="519.8" y1="429.3" x2="524.8" y2="429.3" stroke="#1a1a1a" stroke-width="0.9"/>
<line x1="457.5" y1="377.9" x2="457.5" y2="384.9" stroke="#1a1a1a" stroke-width="0.9"/>
<line x1="455.0" y1="377.9" x2="460.0" y2="377.9" stroke="#1a1a1a" stroke-width="0.9"/>
<line x1="455.0" y1="384.9" x2="460.0" y2="384.9" stroke="#1a1a1a" stroke-width="0.9"/>
<line x1="522.3" y1="344.8" x2="522.3" y2="350.8" stroke="#1a1a1a" stroke-width="0.9"/>
<line x1="519.8" y1="344.8" x2="524.8" y2="344.8" stroke="#1a1a1a" stroke-width="0.9"/>
<line x1="519.8" y1="350.8" x2="524.8" y2="350.8" stroke="#1a1a1a" stroke-width="0.9"/>
<line x1="457.5" y1="372.2" x2="457.5" y2="377.2" stroke="#1a1a1a" stroke-width="0.9"/>
<line x1="455.0" y1="372.2" x2="460.0" y2="372.2" stroke="#1a1a1a" stroke-width="0.9"/>
<line x1="455.0" y1="377.2" x2="460.0" y2="377.2" stroke="#1a1a1a" stroke-width="0.9"/>
<line x1="522.3" y1="344.3" x2="522.3" y2="350.3" stroke="#1a1a1a" stroke-width="0.9"/>
<line x1="519.8" y1="344.3" x2="524.8" y2="344.3" stroke="#1a1a1a" stroke-width="0.9"/>
<line x1="519.8" y1="350.3" x2="524.8" y2="350.3" stroke="#1a1a1a" stroke-width="0.9"/>
<line x1="522.3" y1="414.9" x2="522.3" y2="426.9" stroke="#1a1a1a" stroke-width="0.9"/>
<line x1="519.8" y1="414.9" x2="524.8" y2="414.9" stroke="#1a1a1a" stroke-width="0.9"/>
<line x1="519.8" y1="426.9" x2="524.8" y2="426.9" stroke="#1a1a1a" stroke-width="0.9"/>
<line x1="457.5" y1="421.9" x2="457.5" y2="429.9" stroke="#1a1a1a" stroke-width="0.9"/>
<line x1="455.0" y1="421.9" x2="460.0" y2="421.9" stroke="#1a1a1a" stroke-width="0.9"/>
<line x1="455.0" y1="429.9" x2="460.0" y2="429.9" stroke="#1a1a1a" stroke-width="0.9"/>
<line x1="522.3" y1="399.4" x2="522.3" y2="404.4" stroke="#1a1a1a" stroke-width="0.9"/>
<line x1="519.8" y1="399.4" x2="524.8" y2="399.4" stroke="#1a1a1a" stroke-width="0.9"/>
<line x1="519.8" y1="404.4" x2="524.8" y2="404.4" stroke="#1a1a1a" stroke-width="0.9"/>
<path d="M327.90 438.50C338.70 433.18 371.10 418.57 392.70 406.60C414.30 394.63 435.90 378.32 457.50 366.70C479.10 355.08 511.50 341.87 522.30 336.90" stroke="#000000" stroke-width="1.65" fill="none"/>
<path d="M327.90 435.00L331.40 438.50L327.90 442.00L324.40 438.50Z" fill="#000000"/>
<path d="M392.70 403.10L396.20 406.60L392.70 410.10L389.20 406.60Z" fill="#000000"/>
<path d="M457.50 363.20L461.00 366.70L457.50 370.20L454.00 366.70Z" fill="#000000"/>
<path d="M522.30 333.40L525.80 336.90L522.30 340.40L518.80 336.90Z" fill="#000000"/>
<path d="M327.90 444.00C338.70 442.07 371.10 436.73 392.70 432.40C414.30 428.07 435.90 422.05 457.50 418.00C479.10 413.95 511.50 409.75 522.30 408.10" stroke="#95b3d7" stroke-width="1.65" fill="none"/>
<rect x="324.90" y="441.00" width="6.00" height="6.00" fill="#95b3d7"/>
<rect x="389.70" y="429.40" width="6.00" height="6.00" fill="#95b3d7"/>
<rect x="454.50" y="415.00" width="6.00" height="6.00" fill="#95b3d7"/>
<rect x="519.30" y="405.10" width="6.00" height="6.00" fill="#95b3d7"/>
<path d="M327.90 451.80C338.70 450.22 371.10 445.97 392.70 442.30C414.30 438.63 435.90 432.55 457.50 429.80C479.10 427.05 511.50 426.47 522.30 425.80" stroke="#2c5391" stroke-width="1.65" fill="none"/>
<rect x="324.90" y="448.80" width="6.00" height="6.00" fill="#2c5391"/>
<rect x="389.70" y="439.30" width="6.00" height="6.00" fill="#2c5391"/>
<rect x="454.50" y="426.80" width="6.00" height="6.00" fill="#2c5391"/>
<rect x="519.30" y="422.80" width="6.00" height="6.00" fill="#2c5391"/>
<path d="M327.90 442.00C338.70 438.08 371.10 428.60 392.70 418.50C414.30 408.40 435.90 393.18 457.50 381.40C479.10 369.62 511.50 353.40 522.30 347.80" stroke="#cc1414" stroke-width="1.65" fill="none"/>
<rect x="324.90" y="439.00" width="6.00" height="6.00" fill="#cc1414"/>
<rect x="389.70" y="415.50" width="6.00" height="6.00" fill="#cc1414"/>
<rect x="454.50" y="378.40" width="6.00" height="6.00" fill="#cc1414"/>
<rect x="519.30" y="344.80" width="6.00" height="6.00" fill="#cc1414"/>
<path d="M327.90 440.00C338.70 435.47 371.10 423.68 392.70 412.80C414.30 401.92 435.90 385.62 457.50 374.70C479.10 363.78 511.50 351.87 522.30 347.30" stroke="#ee7f22" stroke-width="1.65" fill="none"/>
<rect x="324.90" y="437.00" width="6.00" height="6.00" fill="#ee7f22"/>
<rect x="389.70" y="409.80" width="6.00" height="6.00" fill="#ee7f22"/>
<rect x="454.50" y="371.70" width="6.00" height="6.00" fill="#ee7f22"/>
<rect x="519.30" y="344.30" width="6.00" height="6.00" fill="#ee7f22"/>
<path d="M327.90 445.20C338.70 443.77 371.10 439.82 392.70 436.60C414.30 433.38 435.90 428.52 457.50 425.90C479.10 423.28 511.50 421.73 522.30 420.90" stroke="#92d050" stroke-width="1.65" fill="none"/>
<rect x="324.90" y="442.20" width="6.00" height="6.00" fill="#92d050"/>
<rect x="389.70" y="433.60" width="6.00" height="6.00" fill="#92d050"/>
<rect x="454.50" y="422.90" width="6.00" height="6.00" fill="#92d050"/>
<rect x="519.30" y="417.90" width="6.00" height="6.00" fill="#92d050"/>
<path d="M327.90 441.40C338.70 439.27 371.10 433.20 392.70 428.60C414.30 424.00 435.90 418.25 457.50 413.80C479.10 409.35 511.50 403.88 522.30 401.90" stroke="#12b050" stroke-width="1.65" fill="none"/>
<circle cx="327.90" cy="441.40" r="3.20" fill="#12b050"/>
<circle cx="392.70" cy="428.60" r="3.20" fill="#12b050"/>
<circle cx="457.50" cy="413.80" r="3.20" fill="#12b050"/>
<circle cx="522.30" cy="401.90" r="3.20" fill="#12b050"/>
<line x1="546.8" y1="325.5" x2="566.5" y2="325.5" stroke="#000000" stroke-width="1.6"/>
<path d="M556.60 322.40L559.70 325.50L556.60 328.60L553.50 325.50Z" fill="#000000"/>
<text x="568.6" y="331.2" font-size="12.2" textLength="26.0" lengthAdjust="spacingAndGlyphs" fill="#1e1e1e">CTRL</text>
<line x1="546.8" y1="349.9" x2="566.5" y2="349.9" stroke="#95b3d7" stroke-width="1.6"/>
<rect x="554.00" y="347.30" width="5.20" height="5.20" fill="#95b3d7"/>
<text x="568.6" y="355.34999999999997" font-size="12.2" textLength="77.2" lengthAdjust="spacingAndGlyphs" fill="#1e1e1e">erlotinib 5 µM</text>
<line x1="546.8" y1="374.3" x2="566.5" y2="374.3" stroke="#2c5391" stroke-width="1.6"/>
<path d="M556.60 371.20L559.55 376.62L553.65 376.62Z" fill="#2c5391"/>
<text x="568.6" y="379.5" font-size="12.2" textLength="84.6" lengthAdjust="spacingAndGlyphs" fill="#1e1e1e">erlotinib 10 µM</text>
<line x1="546.8" y1="398.7" x2="566.5" y2="398.7" stroke="#ee7f22" stroke-width="1.6"/>
<rect x="554.00" y="396.10" width="5.20" height="5.20" fill="#ee7f22"/>
<text x="568.6" y="403.65" font-size="12.2" textLength="85.7" lengthAdjust="spacingAndGlyphs" fill="#1e1e1e">RAPTA-C 10 µM</text>
<line x1="546.8" y1="423.1" x2="566.5" y2="423.1" stroke="#cc1414" stroke-width="1.6"/>
<rect x="554.00" y="420.50" width="5.20" height="5.20" fill="#cc1414"/>
<text x="568.6" y="427.79999999999995" font-size="12.2" textLength="93.1" lengthAdjust="spacingAndGlyphs" fill="#1e1e1e">RAPTA-C 100 µM</text>
<line x1="546.8" y1="447.5" x2="566.5" y2="447.5" stroke="#92d050" stroke-width="1.6"/>
<circle cx="556.60" cy="447.50" r="2.80" fill="#92d050"/>
<text x="568.6" y="451.95" font-size="12.2" textLength="75.1" lengthAdjust="spacingAndGlyphs" fill="#1e1e1e">combination I</text>
<line x1="546.8" y1="471.9" x2="566.5" y2="471.9" stroke="#12b050" stroke-width="1.6"/>
<rect x="554.00" y="469.30" width="5.20" height="5.20" fill="#12b050"/>
<text x="568.6" y="476.09999999999997" font-size="12.2" textLength="78.3" lengthAdjust="spacingAndGlyphs" fill="#1e1e1e">combination II</text>
</svg></body></html>
